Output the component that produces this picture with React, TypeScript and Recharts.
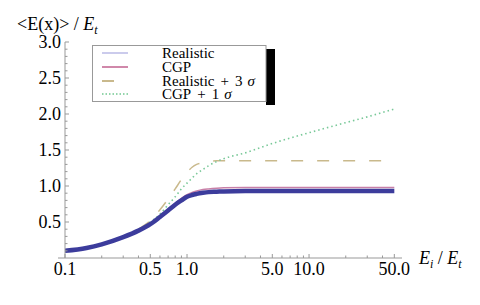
import React from 'react';
import { LineChart, Line, XAxis, YAxis } from 'recharts';

const X_POINTS = [0.1, 0.15, 0.2, 0.3, 0.4, 0.5, 0.6, 0.7, 0.8, 0.9, 1.0, 1.1, 1.2, 1.35, 1.5, 1.75, 2, 3, 5, 10, 20, 30, 50];
const REALISTIC = [0.10, 0.14, 0.19, 0.29, 0.38, 0.47, 0.57, 0.66, 0.74, 0.80, 0.85, 0.875, 0.89, 0.905, 0.915, 0.92, 0.925, 0.93, 0.93, 0.93, 0.93, 0.93, 0.93];
const CGP = [0.10, 0.14, 0.19, 0.29, 0.38, 0.47, 0.57, 0.67, 0.76, 0.83, 0.88, 0.91, 0.93, 0.95, 0.96, 0.97, 0.975, 0.98, 0.98, 0.98, 0.98, 0.98, 0.98];
const REALISTIC_3S = [0.10, 0.14, 0.19, 0.29, 0.40, 0.52, 0.67, 0.82, 0.96, 1.09, 1.19, 1.26, 1.30, 1.32, 1.34, 1.35, 1.35, 1.35, 1.35, 1.35, 1.35, 1.35, 1.35];
const CGP_1S = [0.10, 0.14, 0.19, 0.29, 0.39, 0.50, 0.61, 0.74, 0.85, 0.96, 1.04, 1.11, 1.17, 1.23, 1.28, 1.34, 1.38, 1.46, 1.59, 1.74, 1.88, 1.96, 2.07];

const X_TICKS = [0.1, 0.2, 0.3, 0.4, 0.5, 0.6, 0.7, 0.8, 0.9, 1, 2, 3, 4, 5, 6, 7, 8, 9, 10, 20, 30, 40, 50];
const X_MAJOR = [0.1, 0.5, 1, 5, 10, 50];
const X_LABELS = ['0.1', '0.5', '1.0', '5.0', '10.0', '50.0'];
const Y_TICKS = [0.1, 0.2, 0.3, 0.4, 0.5, 0.6, 0.7, 0.8, 0.9, 1.0, 1.1, 1.2, 1.3, 1.4, 1.5, 1.6, 1.7, 1.8, 1.9, 2.0, 2.1, 2.2, 2.3, 2.4, 2.5, 2.6, 2.7, 2.8, 2.9, 3.0];
const Y_MAJOR = [0.5, 1.0, 1.5, 2.0, 2.5, 3.0];
const Y_LABELS = ['0.5', '1.0', '1.5', '2.0', '2.5', '3.0'];

const data = X_POINTS.map((x, i) => ({
  x,
  realistic: REALISTIC[i],
  cgp: CGP[i],
  r3: REALISTIC_3S[i],
  c1: CGP_1S[i],
}));

const FONT = '"Liberation Serif", "Times New Roman", serif';
const AXIS = '#999999';

function XTick(props: any) {
  const { x, y, payload } = props;
  const v = payload.value;
  const idx = X_MAJOR.indexOf(v);
  const major = idx >= 0;
  return (
    <g>
      <line x1={x} x2={x} y1={y} y2={y - (major ? 4 : 2.5)} stroke={AXIS} strokeWidth={1} />
      {v === 0.1 && <line x1={x - 7} x2={x} y1={y} y2={y} stroke={AXIS} strokeWidth={1} />}
      {major && (
        <text x={x} y={y + 17} textAnchor="middle" fontFamily={FONT} fontSize={18} fill="#000">
          {X_LABELS[idx]}
        </text>
      )}
    </g>
  );
}

function YTick(props: any) {
  const { x, y, payload } = props;
  const v = payload.value;
  const idx = Y_MAJOR.findIndex((m) => Math.abs(m - v) < 1e-9);
  const major = idx >= 0;
  return (
    <g>
      <line x1={x} x2={x + (major ? 4 : 2.5)} y1={y} y2={y} stroke={AXIS} strokeWidth={1} />
      {major && (
        <text x={x - 4} y={y + 6} textAnchor="end" fontFamily={FONT} fontSize={18} fill="#000">
          {Y_LABELS[idx]}
        </text>
      )}
    </g>
  );
}

const LEGEND = [
  { name: 'Realistic', color: '#a8a8e0', dash: undefined as string | undefined, w: 1.2 },
  { name: 'CGP', color: '#c0608e', dash: undefined, w: 1.5 },
  { name: 'Realistic + 3 σ', color: '#c9b98c', dash: undefined, w: 2 },
  { name: 'CGP + 1 σ', color: '#70c890', dash: '1.5 2', w: 1.5 },
];

function LegendBox() {
  const rows = [53, 67, 81, 94];
  return (
    <g>
      <rect x={266} y={49} width={9} height={56} fill="#000" />
      <rect x={92.5} y={45.5} width={173.5} height={56} fill="#fff" stroke="#999" strokeWidth={1} />
      {LEGEND.map((e, i) => (
        <line
          key={e.name}
          x1={102}
          x2={i === 2 ? 114 : 128}
          y1={rows[i]}
          y2={rows[i]}
          stroke={e.color}
          strokeWidth={e.w}
          strokeDasharray={e.dash}
        />
      ))}
      <text x={162} y={rows[0] + 5} fontFamily={FONT} fontSize={15}>Realistic</text>
      <text x={162} y={rows[1] + 5} fontFamily={FONT} fontSize={15}>CGP</text>
      <text x={162} y={rows[2] + 5} fontFamily={FONT} fontSize={15}>
        Realistic<tspan dx={6}>+</tspan><tspan dx={6}>3</tspan><tspan dx={5} fontStyle="italic">σ</tspan>
      </text>
      <text x={162} y={rows[3] + 5} fontFamily={FONT} fontSize={15}>
        CGP<tspan dx={6}>+</tspan><tspan dx={6}>1</tspan><tspan dx={5} fontStyle="italic">σ</tspan>
      </text>
    </g>
  );
}

export default function App() {
  return (
    <div style={{ position: 'absolute', left: 0, top: 0, width: 480, height: 305, background: '#fff' }}>
      <LineChart
        width={480}
        height={305}
        data={data}
        margin={{ top: 42, right: 78, left: 0, bottom: 0 }}
        style={{ position: 'absolute', left: 0, top: 0 }}
      >
        <XAxis
          dataKey="x"
          type="number"
          scale="log"
          domain={[0.1, 57.8]}
          allowDataOverflow
          ticks={X_TICKS}
          interval={0}
          tick={<XTick />}
          tickLine={false}
          tickSize={0}
          tickMargin={0}
          axisLine={{ stroke: AXIS }}
          height={47}
        />
        <YAxis
          type="number"
          domain={[0, 3]}
          allowDataOverflow
          ticks={Y_TICKS}
          interval={0}
          tick={<YTick />}
          tickLine={false}
          tickSize={0}
          tickMargin={0}
          axisLine={{ stroke: AXIS }}
          width={65}
        />
        <Line dataKey="r3" type="monotone" stroke="#c9b98c" strokeWidth={1.5} strokeDasharray="12 14" dot={false} isAnimationActive={false} />
        <Line dataKey="c1" type="monotone" stroke="#78c898" strokeWidth={1.6} strokeDasharray="1.5 3" dot={false} isAnimationActive={false} />
        <Line dataKey="cgp" type="monotone" stroke="#c880a8" strokeWidth={1.5} dot={false} isAnimationActive={false} />
        <Line dataKey="realistic" type="monotone" stroke="#3c3c9c" strokeWidth={4.5} dot={false} isAnimationActive={false} />
      </LineChart>
      <svg width={480} height={305} style={{ position: 'absolute', left: 0, top: 0, pointerEvents: 'none' }}>
        <LegendBox />
        <text x={17} y={30} fontFamily={FONT} fontSize={18}>
          {'<E(x)> / '}
          <tspan fontStyle="italic">E</tspan>
          <tspan fontStyle="italic" fontSize={12} dy={4}>t</tspan>
        </text>
        <text x={419} y={264} fontFamily={FONT} fontSize={18}>
          <tspan fontStyle="italic">E</tspan>
          <tspan fontStyle="italic" fontSize={12} dy={4}>i</tspan>
          <tspan dy={-4}>{' / '}</tspan>
          <tspan fontStyle="italic">E</tspan>
          <tspan fontStyle="italic" fontSize={12} dy={4}>t</tspan>
        </text>
      </svg>
    </div>
  );
}
